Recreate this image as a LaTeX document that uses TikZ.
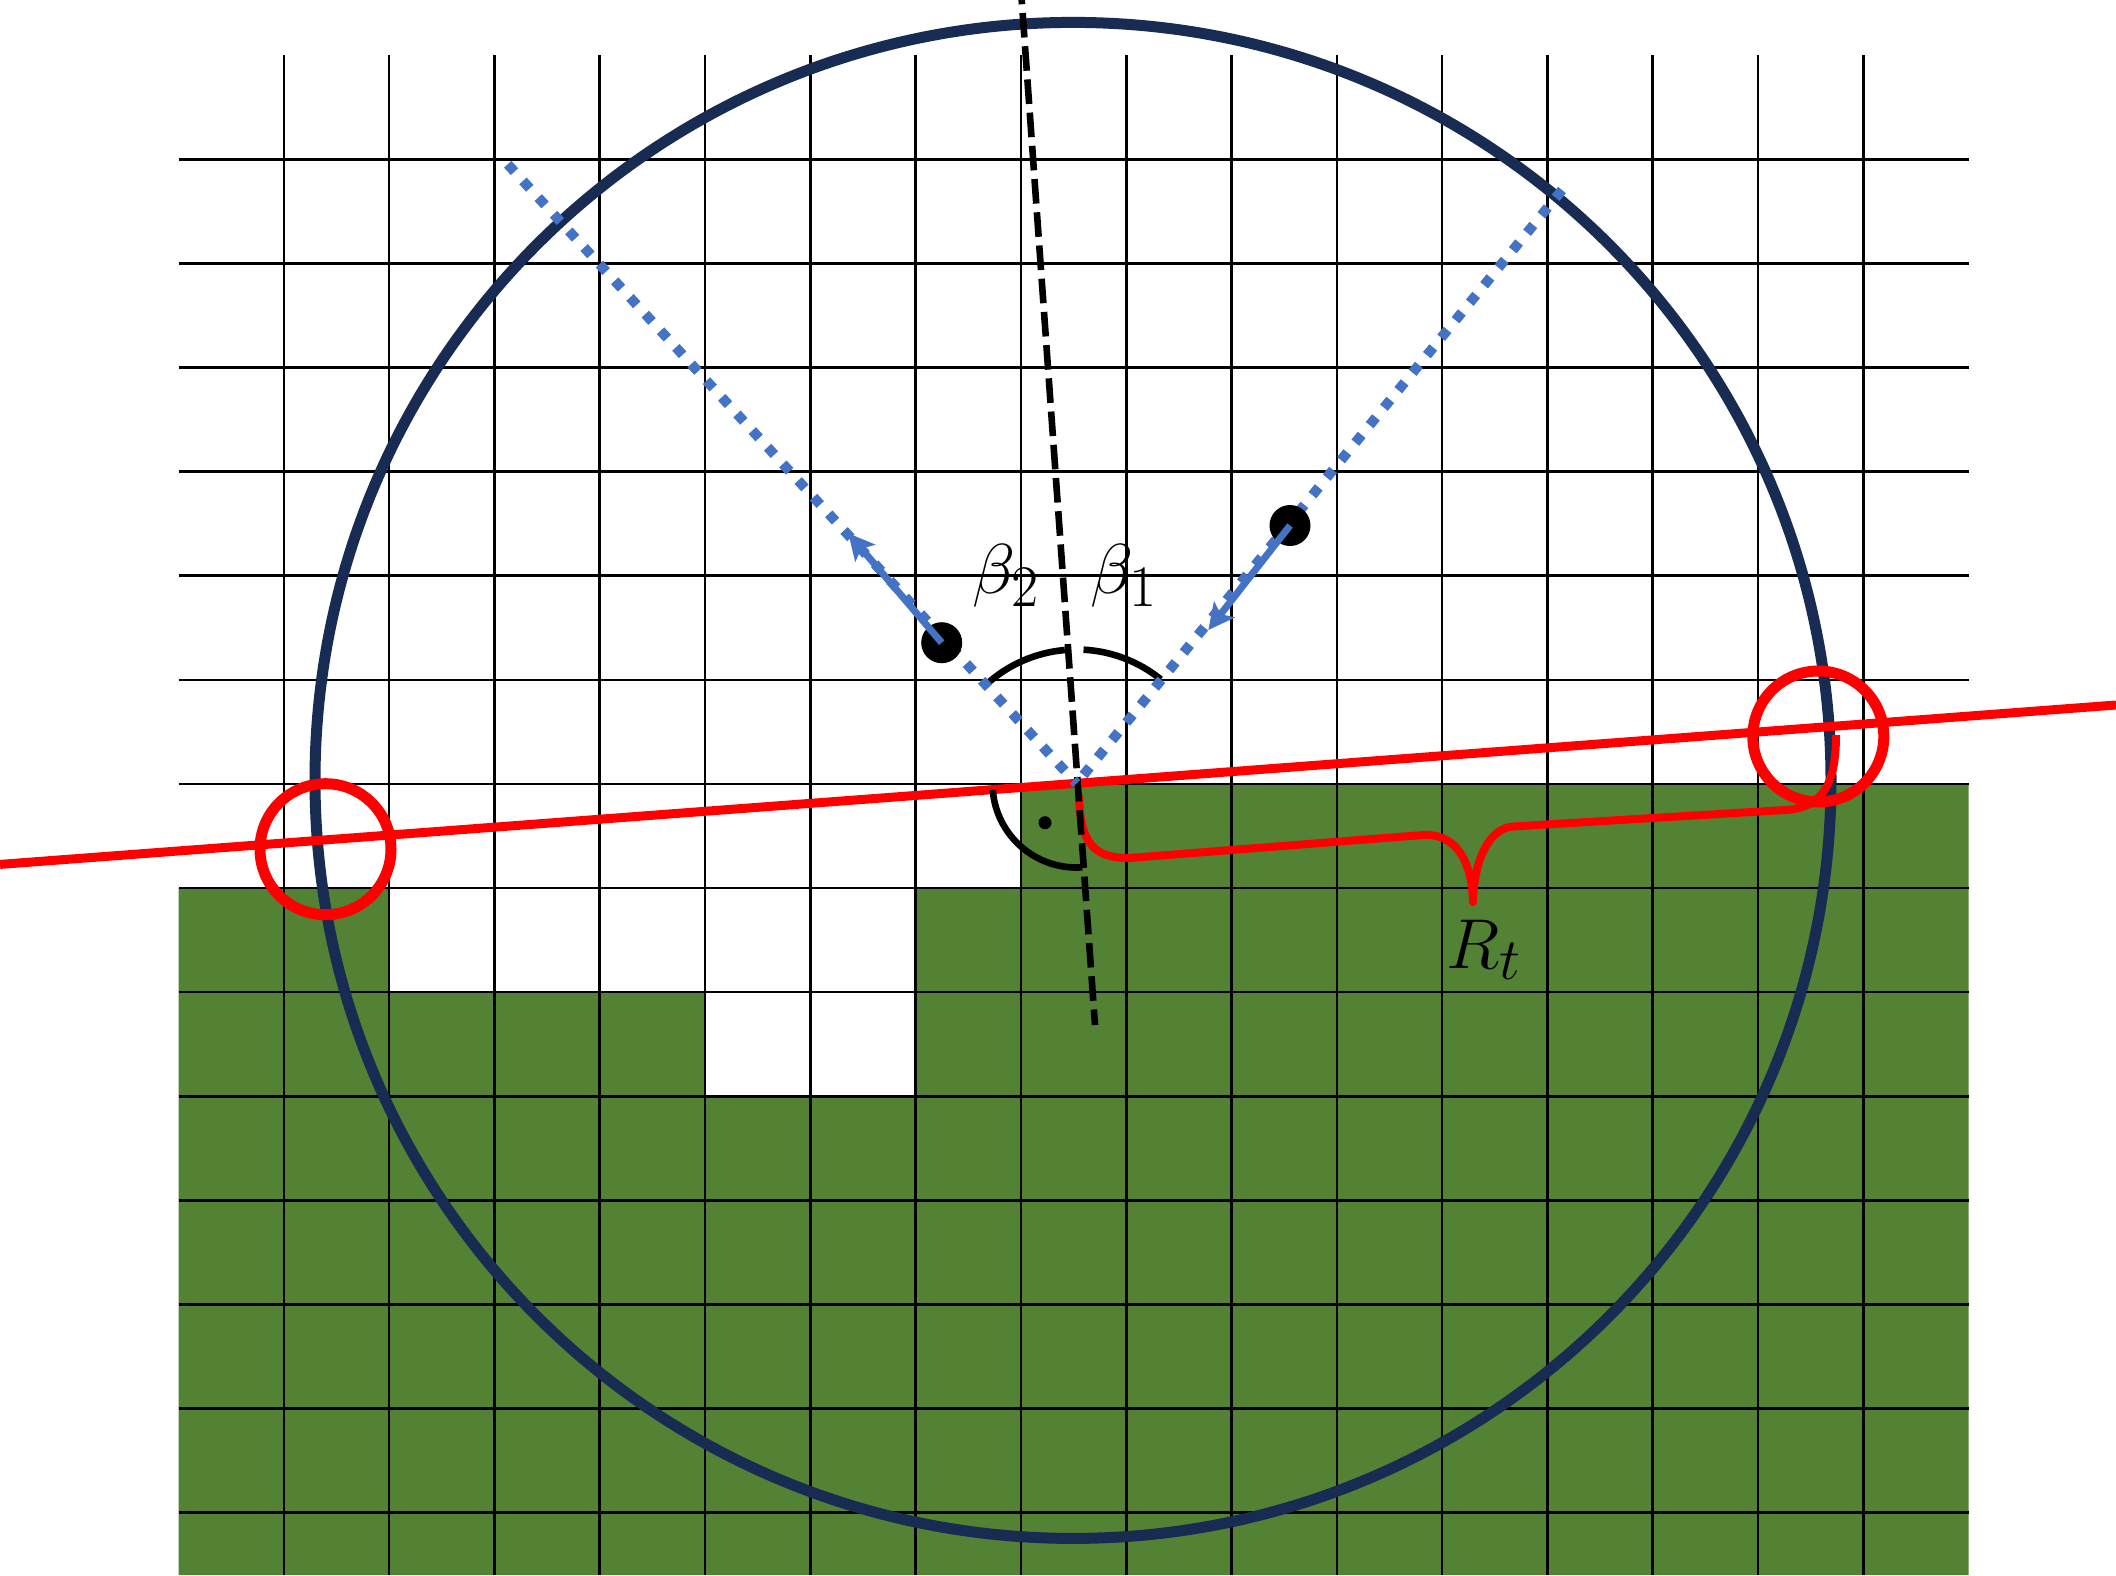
\documentclass[tikz,border=0pt]{standalone}
\usepackage{graphicx}
\usetikzlibrary{arrows.meta}
\definecolor{soilgreen}{RGB}{84,130,53}
\definecolor{navyring}{RGB}{24,43,82}
\definecolor{rayblue}{RGB}{68,114,196}
\definecolor{markred}{RGB}{255,0,0}
\newcommand{\biglbl}[1]{\scalebox{1.42}{\Huge$#1$}}
\begin{document}
\begin{tikzpicture}[x=0.5pt,y=-0.5pt,
  gridline/.style={black,line width=1.3pt},
  ringline/.style={navyring,line width=5.5pt},
  redline/.style={markred,line width=4.5pt},
  redring/.style={markred,line width=5.5pt},
  bracepath/.style={markred,line width=4pt,line join=round},
  dashline/.style={black,line width=3.3pt,dash pattern=on 12.3pt off 4.35pt,dash phase=10.15pt},
  dotline/.style={rayblue,line width=5pt,dash pattern=on 5pt off 6.3pt},
  rayarrow/.style={rayblue,line width=3.5pt,-{Stealth[length=13pt,width=13pt,inset=3pt]}},
  angarc/.style={black,line width=3.3pt},
  bigdot/.style={circle,fill=black,inner sep=0pt,minimum size=20.5pt},
  lbl/.style={inner sep=0pt}]
\useasboundingbox (0,0) rectangle (2116,1575);
\fill[white] (0,0) rectangle (2116,1575);
% soil
\fill[soilgreen] (178.5,1575) -- (178.5,888) -- (389.1,888) -- (389.1,992.1)
  -- (705,992.1) -- (705,1096.2) -- (915.6,1096.2) -- (915.6,888)
  -- (1020.9,888) -- (1020.9,783.9) -- (1968.6,783.9) -- (1968.6,1575) -- cycle;
% grid
\foreach \j in {0,...,13}
  \draw[gridline] (178.5,{159.3+104.1*\j}) -- (1968.6,{159.3+104.1*\j});
\foreach \k in {1,...,16}
  \draw[gridline] ({178.5+105.3*\k},55) -- ({178.5+105.3*\k},1575);
% big circle
\coordinate (C) at (1073,780.4);
\draw[ringline] (C) circle[radius=758];
% key points
\coordinate (P) at (1076.5,783.5);
\coordinate (rl) at (0,864.4);
\coordinate (rr) at (2116,705);
% red tangent line and rings
\draw[redline] (rl) -- (rr);
\draw[redring] (325.5,849.2) circle[radius=65.5];
\draw[redring] (1818.3,736.5) circle[radius=65.5];
% brace
\draw[bracepath] (1079,795) .. controls (1080,845) and (1095,858) .. (1129,858)
  -- (1423,835) .. controls (1455,833) and (1472,860) .. (1473,902)
  .. controls (1474,858) and (1490,828) .. (1513,826.5)
  -- (1785,810) .. controls (1825,808) and (1836,780) .. (1836,735);
% angle arcs
\draw[angarc] (P) ++(227.4:134) arc[start angle=227.4,end angle=265,radius=134];
\draw[angarc] (P) ++(273:134) arc[start angle=273,end angle=309,radius=134];
\draw[angarc] (P) ++(175.7:84) arc[start angle=175.7,end angle=86,radius=84];
\fill[black] (1045,822.7) circle[radius=6.5];
% normal (dashed)
\coordinate (dtop) at (1021.7,0);
\coordinate (dbot) at (1095,1025);
\draw[dashline] (dtop) -- (dbot);
% dotted rays
\coordinate (bl) at (507.7,164.3);
\coordinate (br) at (1562,190);
\draw[dotline] (bl) -- (P);
\draw[dotline] (br) -- (P);
% dots and arrows
\node[bigdot] (dotL) at (941.7,642.7) {};
\node[bigdot] (dotR) at (1290,525.5) {};
\coordinate (tipL) at (848.3,533.3);
\coordinate (tipR) at (1208.3,630);
\draw[rayarrow] (dotL.center) -- (tipL);
\draw[rayarrow] (dotR.center) -- (tipR);
% labels
\node[lbl,anchor=base west] (b2) at (972,593) {\biglbl{\beta_2}};
\node[lbl,anchor=base west] (b1) at (1090,593) {\biglbl{\beta_1}};
\node[lbl,anchor=base west] (rt) at (1446,968) {\biglbl{R_t}};
\end{tikzpicture}
\end{document}
